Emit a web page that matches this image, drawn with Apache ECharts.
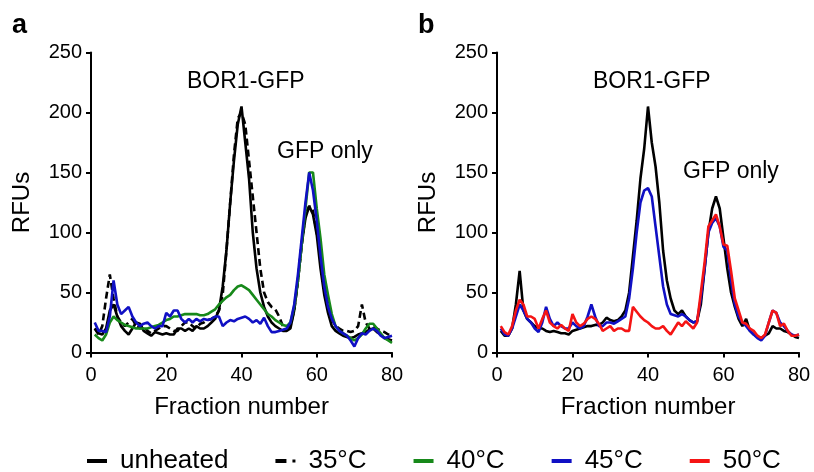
<!DOCTYPE html>
<html>
<head>
<meta charset="utf-8">
<script src="https://cdn.jsdelivr.net/npm/echarts@6/dist/echarts.min.js"></script>
<style>
html,body{margin:0;padding:0;background:#fff;}
#chart{width:814px;height:472px;}
</style>
</head>
<body>
<div id="chart"></div>
<script>
const fractions = [1,2,3,4,5,6,7,8,9,10,11,12,13,14,15,16,17,18,19,20,21,22,23,24,25,26,27,28,29,30,31,32,33,34,35,36,37,38,39,40,41,42,43,44,45,46,47,48,49,50,51,52,53,54,55,56,57,58,59,60,61,62,63,64,65,66,67,68,69,70,71,72,73,74,75,76,77,78,79,80];
const xTicks = [0, 20, 40, 60, 80];
const yTicks = [0, 50, 100, 150, 200, 250];

// Panel a
const aUnheated = [20,16,15,20,35,40,30,22,18,15, 20,25,24,18,16,14,17,16,15,16, 15,15,20,20,18,20,18,22,20,20, 22,25,28,35,55,85,125,160,190,205, 175,145,100,70,50,38,30,25,22,20, 18,18,20,35,60,90,112,122,115,98, 70,48,33,22,18,16,14,13,12,13, 15,16,17,19,20,17,15,12,11,10];
const a35 = [20,15,22,45,65,45,30,25,22,25, 28,22,20,22,18,16,18,20,22,22, 20,18,18,22,25,25,22,20,24,25, 27,28,30,35,48,85,125,165,195,200, 190,160,130,100,70,50,42,38,36,30, 22,20,22,35,60,90,115,122,118,100, 85,60,40,28,22,20,18,18,17,18, 22,40,25,20,22,20,18,17,15,15];
const a40 = [15,12,10,15,25,30,27,25,23,22, 21,20,20,20,20,21,22,23,25,27, 28,30,30,31,32,32,32,32,31,31, 32,34,36,40,43,46,48,52,55,56, 54,52,48,44,40,36,32,30,27,25, 23,22,25,38,60,90,120,150,150,120, 95,65,48,32,22,18,16,14,12,10, 12,15,20,24,24,20,16,12,10,8];
const a45 = [25,18,18,17,30,60,40,32,35,38, 30,25,22,24,25,22,20,22,22,33, 30,35,35,28,25,28,25,28,26,28, 27,28,30,30,22,25,27,26,28,29, 30,28,25,27,24,29,22,17,17,18, 19,20,25,40,65,95,125,150,135,110, 80,55,38,28,22,18,16,14,10,5, 12,16,15,18,20,18,14,12,13,14];

// Panel b
const bUnheated = [18,14,14,20,40,68,35,28,25,22, 20,20,18,17,18,17,16,16,15,18, 19,20,21,22,22,23,23,25,29,27, 26,27,30,35,50,80,110,145,170,205, 175,155,125,85,60,45,35,32,35,30, 27,25,26,40,70,100,120,130,120,95, 70,50,38,28,22,28,18,15,13,12, 14,16,22,20,20,18,17,15,13,12];
const b45 = [20,15,14,20,30,40,35,28,25,20, 17,25,38,28,22,25,22,20,20,25, 22,20,22,30,40,30,22,22,25,25, 24,26,28,30,45,70,100,125,135,137, 130,105,80,55,40,32,31,30,32,30, 27,25,26,45,70,100,108,112,105,88, 85,60,40,30,25,22,18,15,12,10, 14,25,35,33,25,22,18,15,14,15];
const b50 = [22,17,15,22,35,44,40,30,30,28, 20,28,35,25,22,20,23,20,18,32, 25,22,24,28,30,28,24,18,20,22, 18,20,20,18,18,38,34,30,27,25, 22,20,20,22,18,15,20,25,22,26, 23,20,25,50,75,105,110,115,105,90, 89,68,45,35,25,24,20,18,14,12, 15,25,35,33,22,24,18,14,14,15];

const legendNames = ['unheated', '35°C', '40°C', '45°C', '50°C'];
const colors = {'unheated':'#000000','35°C':'#000000','40°C':'#17891a','45°C':'#1010c4','50°C':'#f51414'};

const FONT = 'Liberation Sans, Arial, sans-serif';

function pairs(vals){ return fractions.map((f,i)=>[f, vals[i]]); }

function mkSeries(name, vals, idx, dashed){
  return {
    name: name, type: 'line', xAxisIndex: idx, yAxisIndex: idx,
    data: pairs(vals), symbol: 'none', showSymbol: false,
    lineStyle: {color: colors[name], width: 2.6, type: dashed ? [7,4] : 'solid'},
    itemStyle: {color: colors[name]},
    emphasis: {disabled: true}, animation: false
  };
}

function xAx(idx){
  return {
    gridIndex: idx, type: 'value', min: xTicks[0], max: xTicks[xTicks.length-1], interval: 20,
    name: 'Fraction number', nameLocation: 'middle', nameGap: 43,
    nameTextStyle: {fontFamily: FONT, fontSize: 24, color: '#000'},
    axisLine: {show: true, onZero: false, lineStyle: {color: '#000', width: 2}},
    axisTick: {show: true, length: 5, lineStyle: {color: '#000', width: 2}},
    axisLabel: {fontFamily: FONT, fontSize: 20, color: '#000', margin: 13},
    splitLine: {show: false}
  };
}
function yAx(idx){
  return {
    gridIndex: idx, type: 'value', min: yTicks[0], max: yTicks[yTicks.length-1], interval: 50,
    name: 'RFUs', nameLocation: 'middle', nameGap: 57,
    nameTextStyle: {fontFamily: FONT, fontSize: 24, color: '#000'},
    axisLine: {show: true, onZero: false, lineStyle: {color: '#000', width: 2}},
    axisTick: {show: true, length: 5, lineStyle: {color: '#000', width: 2}},
    axisLabel: {fontFamily: FONT, fontSize: 20, color: '#000', margin: 9},
    splitLine: {show: false}
  };
}

const legendIcons = {
  'unheated': 'rect',
  '35°C': 'path://M0,0H11V4H0Z M17,0.6H20V3.4H17Z',
  '40°C': 'rect',
  '45°C': 'rect',
  '50°C': 'rect'
};

const chart = echarts.init(document.getElementById('chart'), null, {renderer: 'canvas'});
chart.setOption({
  backgroundColor: '#fff',
  animation: false,
  grid: [
    {left: 91, width: 301, top: 52.5, height: 300},
    {left: 497, width: 302, top: 52.5, height: 300}
  ],
  xAxis: [xAx(0), xAx(1)],
  yAxis: [yAx(0), yAx(1)],
  legend: {
    data: legendNames.map(n => ({name: n, icon: legendIcons[n]})),
    top: 443, left: 82, itemGap: 47, itemWidth: 20, itemHeight: 4,
    textStyle: {fontFamily: FONT, fontSize: 26, color: '#000', padding: [0, 0, 0, 8]},
    selectedMode: false
  },
  graphic: [
    {type: 'text', left: 12, top: 12, style: {text: 'a', font: 'bold 27px ' + FONT, fill: '#000'}},
    {type: 'text', left: 418, top: 12, style: {text: 'b', font: 'bold 27px ' + FONT, fill: '#000'}},
    {type: 'text', left: 187, top: 70, style: {text: 'BOR1-GFP', font: '23px ' + FONT, fill: '#000'}},
    {type: 'text', left: 277, top: 140, style: {text: 'GFP only', font: '23px ' + FONT, fill: '#000'}},
    {type: 'text', left: 593, top: 70, style: {text: 'BOR1-GFP', font: '23px ' + FONT, fill: '#000'}},
    {type: 'text', left: 683, top: 160, style: {text: 'GFP only', font: '23px ' + FONT, fill: '#000'}}
  ],
  series: [
    mkSeries('unheated', aUnheated, 0, false),
    mkSeries('35°C', a35, 0, true),
    mkSeries('40°C', a40, 0, false),
    mkSeries('45°C', a45, 0, false),
    mkSeries('unheated', bUnheated, 1, false),
    mkSeries('45°C', b45, 1, false),
    mkSeries('50°C', b50, 1, false)
  ]
});
</script>
</body>
</html>
